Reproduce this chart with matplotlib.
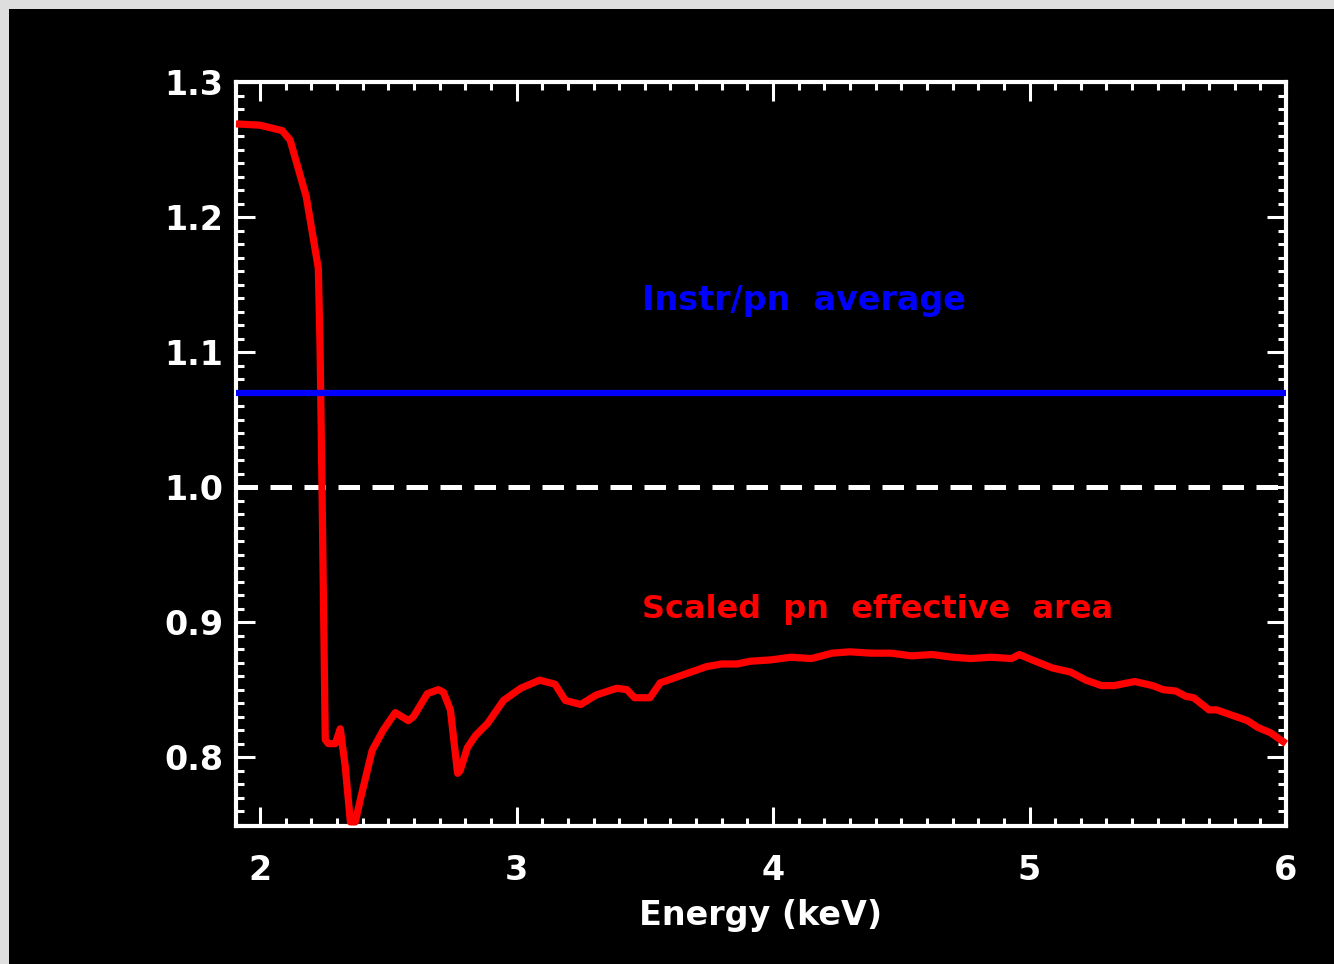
import matplotlib
matplotlib.use("Agg")
import matplotlib.pyplot as plt
from matplotlib.patches import Rectangle
from matplotlib.ticker import MultipleLocator

energy = [1.906, 2.0, 2.086, 2.117, 2.18, 2.227, 2.234, 2.242, 2.254, 2.266, 2.293,
          2.3125, 2.332, 2.352, 2.371, 2.39, 2.437, 2.48, 2.527, 2.578, 2.598, 2.652,
          2.695, 2.715, 2.742, 2.77, 2.78, 2.808, 2.84, 2.887, 2.949, 3.016, 3.09,
          3.15, 3.19, 3.25, 3.31, 3.39, 3.43, 3.46, 3.52, 3.56, 3.62, 3.68, 3.74,
          3.80, 3.86, 3.91, 3.99, 4.07, 4.15, 4.23, 4.30, 4.38, 4.46, 4.54, 4.62,
          4.70, 4.77, 4.85, 4.93, 4.96, 5.01, 5.09, 5.16, 5.22, 5.28, 5.33, 5.41,
          5.48, 5.52, 5.57, 5.61, 5.64, 5.70, 5.73, 5.79, 5.85, 5.89, 5.94, 6.0]
scaled_area = [1.269, 1.268, 1.264, 1.257, 1.215, 1.162, 1.101, 0.990, 0.813, 0.810, 0.810,
               0.821, 0.793, 0.752, 0.752, 0.768, 0.805, 0.820, 0.833, 0.827, 0.830, 0.847,
               0.850, 0.848, 0.835, 0.788, 0.790, 0.807, 0.816, 0.825, 0.842, 0.851, 0.857,
               0.854, 0.842, 0.839, 0.846, 0.851, 0.850, 0.844, 0.844, 0.855, 0.859, 0.863, 0.867,
               0.869, 0.869, 0.871, 0.872, 0.874, 0.873, 0.877, 0.878, 0.877, 0.877, 0.875, 0.876,
               0.874, 0.873, 0.874, 0.873, 0.876, 0.872, 0.866, 0.863, 0.857, 0.853, 0.853, 0.856,
               0.853, 0.850, 0.849, 0.845, 0.844, 0.835, 0.835, 0.831, 0.827, 0.822, 0.818, 0.810]
instr_average = 1.070
unity = 1.0
xticks = [2, 3, 4, 5, 6]
yticks = [0.8, 0.9, 1.0, 1.1, 1.2, 1.3]
ytick_labels = ["0.8", "0.9", "1.0", "1.1", "1.2", "1.3"]

FONT = "DejaVu Sans"

fig = plt.figure(figsize=(13.34, 9.64), dpi=100, facecolor="#dedede")
fig.patches.append(Rectangle((9 / 1334, 0), 1 - 9 / 1334, 1 - 9 / 964,
                             transform=fig.transFigure, facecolor="black",
                             edgecolor="none", zorder=-10))

ax = fig.add_axes([236 / 1334, 1 - 826 / 964, (1286 - 236) / 1334, (826 - 82) / 964])
ax.set_facecolor("black")

ax.plot(energy, scaled_area, color="#ff0000", lw=5.2, solid_joinstyle="round",
        solid_capstyle="butt", zorder=3, clip_on=False)
ax.axhline(instr_average, color="#0000ff", lw=4.5, zorder=3)
ax.axhline(unity, color="white", lw=3.6, dashes=(4.3, 2.5), zorder=2)

ax.text(4.12, 1.1385, "Instr/pn  average", color="#0000ff", fontsize=24,
        fontweight="bold", family=FONT, ha="center", va="center")
ax.text(4.406, 0.909, "Scaled  pn  effective  area", color="#ff0000", fontsize=23,
        fontweight="bold", family=FONT, ha="center", va="center")

ax.set_xlim(1.906, 6.0)
ax.set_ylim(0.749, 1.3)
ax.set_xticks(xticks)
ax.set_yticks(yticks)
ax.set_yticklabels(ytick_labels)
ax.xaxis.set_minor_locator(MultipleLocator(0.1))
ax.yaxis.set_minor_locator(MultipleLocator(0.01))

for s in ax.spines.values():
    s.set_color("white")
    s.set_linewidth(3)
ax.tick_params(which="both", direction="in", top=True, right=True, colors="white", width=2.2)
ax.tick_params(which="major", length=14, labelsize=24)
ax.tick_params(axis="x", which="major", pad=20)
ax.tick_params(axis="y", which="major", pad=9)
ax.tick_params(which="minor", length=6)
for lab in ax.get_xticklabels() + ax.get_yticklabels():
    lab.set_family(FONT)
    lab.set_fontweight("bold")
    lab.set_color("white")

ax.set_xlabel("Energy (keV)", color="white", fontsize=24, fontweight="bold",
              family=FONT, labelpad=9)

fig.savefig("out.png", dpi=100, facecolor=fig.get_facecolor())
